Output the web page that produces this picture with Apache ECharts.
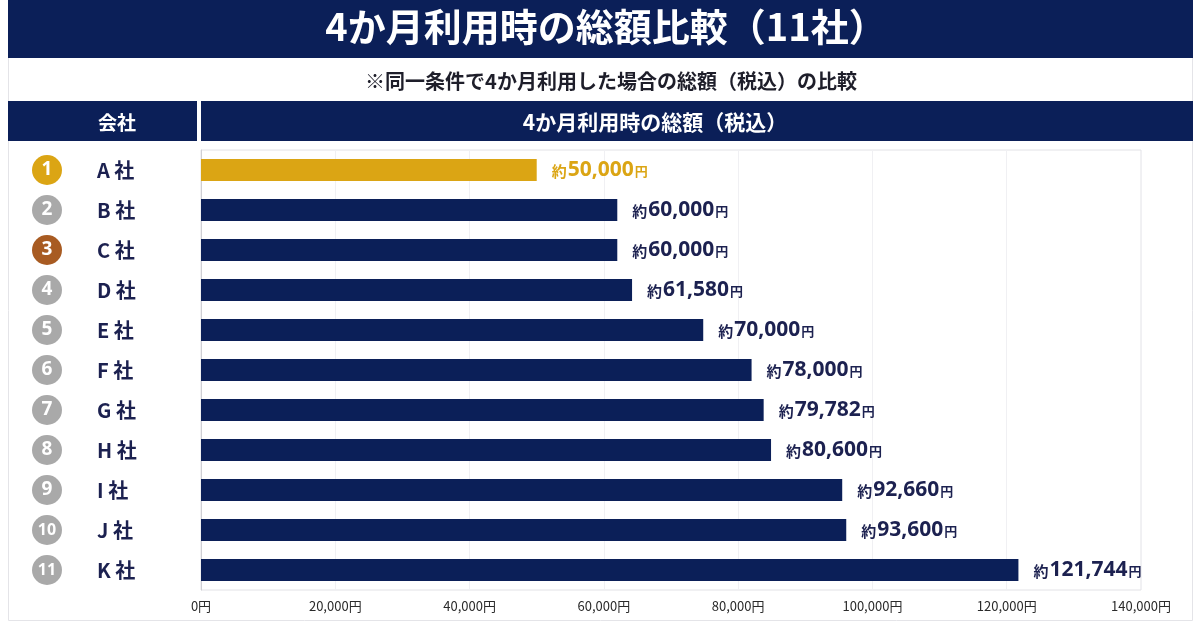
<!DOCTYPE html>
<html><head><meta charset="utf-8">
<script src="https://cdn.jsdelivr.net/npm/echarts@6/dist/echarts.min.js"></script>
<style>html,body{margin:0;padding:0;background:#fff}#c{width:1200px;height:622px}</style>
</head><body><div id="c"></div>
<script>
// Categories (top to bottom)
const companies = ['A 社','B 社','C 社','D 社','E 社','F 社','G 社','H 社','I 社','J 社','K 社'];
const ranks = ['1','2','3','4','5','6','7','8','9','10','11'];
// Amounts printed next to each bar (円)
const amounts = [50000, 60000, 60000, 61580, 70000, 78000, 79782, 80600, 92660, 93600, 121744];
// Bar lengths as drawn in the reference (円)
const barLengths = [50000, 62000, 62000, 64200, 74800, 82000, 83800, 84900, 95500, 96100, 121744];
// X axis tick values (円)
const xTicks = [0, 20000, 40000, 60000, 80000, 100000, 120000, 140000];

const NAVY = '#0b1f58', GOLD = '#dba514', GREY = '#a9a9a9', BRONZE = '#a85b22', TXT = '#1c2150';
const FONT = '"Noto Sans CJK JP", "Noto Sans", sans-serif';
const NUMFONT = '"Open Sans", "Noto Sans", sans-serif';
const fmt = v => v.toLocaleString('en-US');

const chart = echarts.init(document.getElementById('c'));
const badgeRich = {};
['g','s','b'].forEach((k, j) => {
  badgeRich[k] = {width: 30, height: 30, lineHeight: 30, borderRadius: 15, align: 'center',
    backgroundColor: [GOLD, GREY, BRONZE][j], color: '#fff', fontSize: 19, fontWeight: 'bold', fontFamily: NUMFONT};
  badgeRich[k + '2'] = Object.assign({}, badgeRich[k], {fontSize: 16});
});
badgeRich.n = {color: TXT, fontSize: 20, fontWeight: 'bold', fontFamily: FONT, padding: [0, 0, 0, 35]};

chart.setOption({
  backgroundColor: '#fff',
  animation: false,
  textStyle: {fontFamily: FONT},
  title: [
    {text: '4か月利用時の総額比較（11社）', left: 601, top: 3, textAlign: 'center',
     textStyle: {color: '#fff', fontSize: 38, fontWeight: 'bold', fontFamily: FONT}},
    {text: '※同一条件で4か月利用した場合の総額（税込）の比較', left: 606, top: 66, textAlign: 'center',
     textStyle: {color: '#1e1e2a', fontSize: 20, fontWeight: 'bold', fontFamily: FONT}},
    {text: '会社', left: 112, top: 108, textAlign: 'center',
     textStyle: {color: '#fff', fontSize: 19, fontWeight: 'bold', fontFamily: FONT}},
    {text: '4か月利用時の総額（税込）', left: 650, top: 107, textAlign: 'center',
     textStyle: {color: '#fff', fontSize: 21, fontWeight: 'bold', fontFamily: FONT}}
  ],
  graphic: [
    {type: 'rect', z: -10, shape: {x: 8.5, y: 0.5, width: 1184, height: 620}, style: {fill: '#fff', stroke: '#e4e4e8', lineWidth: 1}},
    {type: 'rect', z: -5, shape: {x: 8, y: 0, width: 1185, height: 58}, style: {fill: NAVY}},
    {type: 'rect', z: -5, shape: {x: 8, y: 101, width: 189, height: 40}, style: {fill: NAVY}},
    {type: 'rect', z: -5, shape: {x: 201, y: 101, width: 992, height: 40}, style: {fill: NAVY}}
  ],
  grid: {left: 201, right: 59, top: 150, height: 440, containLabel: false,
         show: true, borderColor: '#e2e2e6', borderWidth: 1},
  xAxis: {
    type: 'value', min: 0, max: 140000, interval: 20000,
    axisLine: {show: false}, axisTick: {show: false},
    splitLine: {show: true, lineStyle: {color: '#f0f0f3'}},
    axisLabel: {color: '#2a2a2a', fontSize: 13, margin: 10, fontFamily: FONT,
      formatter: v => xTicks.includes(v) ? fmt(v) + '円' : ''}
  },
  yAxis: {
    type: 'category', data: companies, inverse: true,
    axisLine: {show: true, lineStyle: {color: '#cfcfd4'}}, axisTick: {show: false},
    axisLabel: {align: 'left', margin: 169, rich: badgeRich,
      formatter: (v, i) => {
        let k = i === 0 ? 'g' : (i === 2 ? 'b' : 's');
        if (ranks[i].length > 1) k += '2';
        return '{' + k + '|' + ranks[i] + '}{n|' + v + '}';
      }}
  },
  series: [{
    type: 'bar', barWidth: 22,
    data: barLengths.map((v, i) => ({value: v, itemStyle: {color: i === 0 ? GOLD : NAVY},
      label: {color: i === 0 ? GOLD : TXT}})),
    label: {
      show: true, position: 'right', distance: 15,
      formatter: p => '{a|約}{b|' + fmt(amounts[p.dataIndex]) + '}{c|円}',
      rich: {
        a: {fontSize: 15, fontFamily: FONT, fontWeight: 'bold', padding: [2, 1, 0, 0]},
        b: {fontSize: 21, fontFamily: NUMFONT, fontWeight: 'bold'},
        c: {fontSize: 13, fontFamily: FONT, fontWeight: 'bold', padding: [2, 0, 0, 1]}
      }
    }
  }]
});
</script>
</body></html>
